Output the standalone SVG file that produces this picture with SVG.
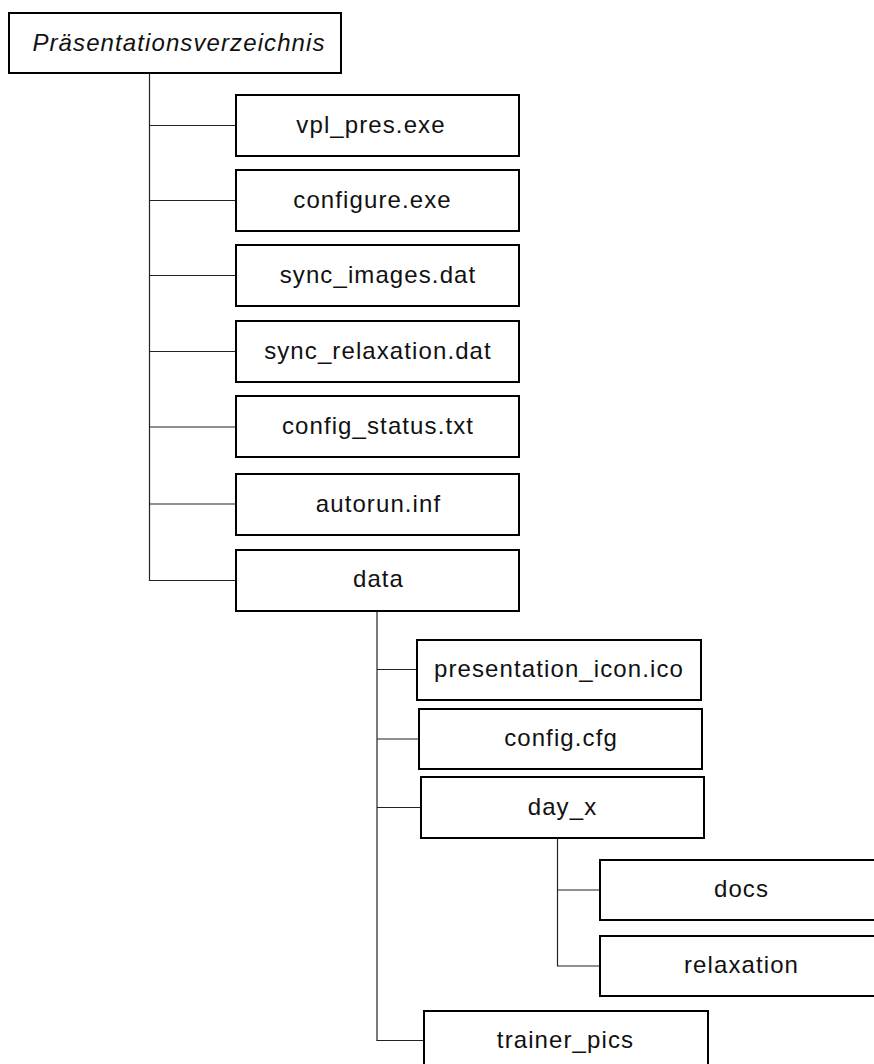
<svg xmlns="http://www.w3.org/2000/svg" width="874" height="1064" viewBox="0 0 874 1064">
<style>
rect.box{fill:#fff;stroke:#000;stroke-width:2}
text{font-family:"Liberation Sans",Arial,sans-serif;font-size:24px;letter-spacing:1.1px;fill:#111;text-anchor:middle}
text.root{font-style:italic}
.conn line{stroke:#222;stroke-width:1.2;fill:none}
</style>
<rect width="874" height="1064" fill="#fff"/>
<g id="connectors" class="conn">
<line x1="149.5" y1="73" x2="149.5" y2="580.5"/>
<line x1="149.5" y1="125.5" x2="236" y2="125.5"/>
<line x1="149.5" y1="200.5" x2="236" y2="200.5"/>
<line x1="149.5" y1="275.5" x2="236" y2="275.5"/>
<line x1="149.5" y1="351.5" x2="236" y2="351.5"/>
<line x1="149.5" y1="427" x2="236" y2="427"/>
<line x1="149.5" y1="504" x2="236" y2="504"/>
<line x1="148.9" y1="580.5" x2="236" y2="580.5"/>
<line x1="377" y1="611" x2="377" y2="1040.5"/>
<line x1="377" y1="669.5" x2="417" y2="669.5"/>
<line x1="377" y1="739" x2="419" y2="739"/>
<line x1="377" y1="807.5" x2="421" y2="807.5"/>
<line x1="376.4" y1="1040.5" x2="424" y2="1040.5"/>
<line x1="557.5" y1="838" x2="557.5" y2="966"/>
<line x1="557.5" y1="890" x2="600" y2="890"/>
<line x1="556.9" y1="966" x2="600" y2="966"/>
</g>
<g id="root"><rect class="box" x="9" y="13" width="332" height="60"/><text class="root" x="179" y="51">Präsentationsverzeichnis</text></g>
<g id="vpl_pres"><rect class="box" x="236" y="95" width="283" height="61"/><text x="371" y="133">vpl_pres.exe</text></g>
<g id="configure"><rect class="box" x="236" y="170" width="283" height="61"/><text x="372.5" y="208">configure.exe</text></g>
<g id="sync_images"><rect class="box" x="236" y="245" width="283" height="61"/><text x="378" y="283">sync_images.dat</text></g>
<g id="sync_relaxation"><rect class="box" x="236" y="321" width="283" height="61"/><text x="378" y="359">sync_relaxation.dat</text></g>
<g id="config_status"><rect class="box" x="236" y="396" width="283" height="61"/><text x="378" y="434">config_status.txt</text></g>
<g id="autorun"><rect class="box" x="236" y="474" width="283" height="61"/><text x="378.5" y="512">autorun.inf</text></g>
<g id="data"><rect class="box" x="236" y="550" width="283" height="61"/><text x="378.5" y="587">data</text></g>
<g id="presentation_icon"><rect class="box" x="417" y="640" width="284" height="60"/><text x="559" y="677">presentation_icon.ico</text></g>
<g id="config_cfg"><rect class="box" x="419" y="709" width="283" height="60"/><text x="561" y="746">config.cfg</text></g>
<g id="day_x"><rect class="box" x="421" y="777" width="283" height="61"/><text x="562.5" y="815">day_x</text></g>
<g id="docs"><rect class="box" x="600" y="860" width="284" height="60"/><text x="741.5" y="897">docs</text></g>
<g id="relaxation"><rect class="box" x="600" y="936" width="284" height="60"/><text x="741.5" y="973">relaxation</text></g>
<g id="trainer_pics"><rect class="box" x="424" y="1011" width="284" height="61"/><text x="565.5" y="1048">trainer_pics</text></g>
</svg>
